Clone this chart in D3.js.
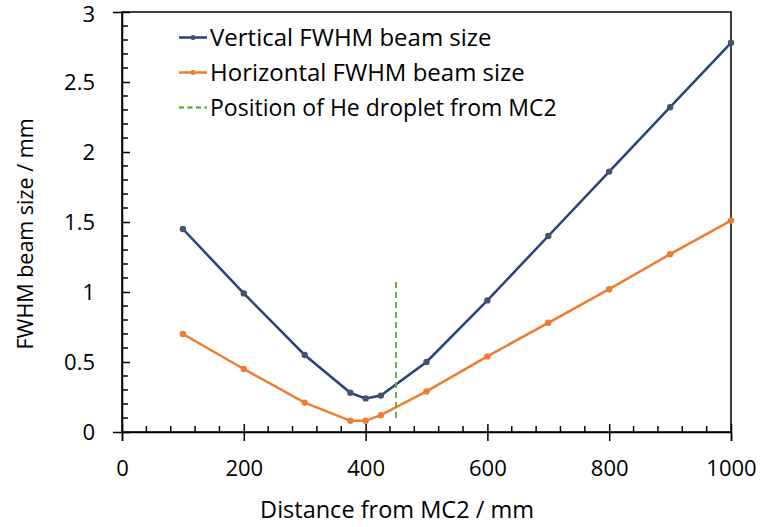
<!DOCTYPE html>
<html><head><meta charset="utf-8">
<script src="https://cdn.jsdelivr.net/npm/d3@7"></script>
<style>body{margin:0;background:#fff}svg{display:block}text{font-family:"Open Sans",Lato,sans-serif;fill:#000}</style>
</head><body><svg id="c" width="761" height="527"></svg>
<script>
const distances = [100,200,300,375,400,425,500,600,700,800,900,1000];
const vertical = [1.45,0.99,0.55,0.28,0.24,0.26,0.50,0.94,1.40,1.86,2.32,2.78];
const horizontal = [0.70,0.45,0.21,0.08,0.08,0.12,0.29,0.54,0.78,1.02,1.27,1.51];
const dropletX = [450,450];
const dropletY = [0.1,1.1];
const xTicks = [0,200,400,600,800,1000];
const yTicks = [0,0.5,1,1.5,2,2.5,3];
const legendLabels = ["Vertical FWHM beam size","Horizontal FWHM beam size","Position of He droplet from MC2"];

const svg = d3.select("#c");
const L=122,R=731,T=12,B=432;
const x = d3.scaleLinear().domain([0,1000]).range([L,R]);
const y = d3.scaleLinear().domain([0,3]).range([B,T]);

// frame
svg.append("rect").attr("x",L).attr("y",T).attr("width",R-L).attr("height",B-T)
  .attr("fill","none").attr("stroke","#000").attr("stroke-width",1.5);

// minor ticks
const xMinor = d3.range(0,1001,40).filter(v=>v%200!==0);
svg.append("g").selectAll("line").data(xMinor).join("line")
  .attr("x1",d=>x(d)).attr("x2",d=>x(d)).attr("y1",B).attr("y2",B-6).attr("stroke","#000").attr("stroke-width",1.5);
const yMinor = d3.range(0,31).map(v=>v/10).filter((v,i)=>i%5!==0);
svg.append("g").selectAll("line").data(yMinor).join("line")
  .attr("x1",L).attr("x2",L+6).attr("y1",d=>y(d)).attr("y2",d=>y(d)).attr("stroke","#000").attr("stroke-width",1.5);

// axes
const xAx = svg.append("g").attr("transform",`translate(0,${B})`)
  .call(d3.axisBottom(x).tickValues(xTicks).tickSize(9).tickPadding(10).tickFormat(d3.format("d")));
const yAx = svg.append("g").attr("transform",`translate(${L},0)`)
  .call(d3.axisLeft(y).tickValues(yTicks).tickSize(9).tickPadding(10).tickFormat(d=>String(d)));
[xAx,yAx].forEach(g=>{
  g.select(".domain").attr("stroke","#000").attr("stroke-width",1.5);
  g.selectAll(".tick line").attr("stroke","#000").attr("stroke-width",1.5);
  g.selectAll("text").style("font-size","22px").attr("fill","#000");
});
xAx.selectAll(".tick line").attr("y1",-8);
xAx.selectAll("text").attr("dy",null).attr("y",44);
yAx.selectAll(".tick line").attr("x2",8);
yAx.selectAll("text").attr("x",-27).attr("y",d=>d===3?2:0);

// axis titles
svg.append("text").attr("x",397).attr("y",518).attr("text-anchor","middle").style("font-size","23.5px").text("Distance from MC2 / mm");
svg.append("text").attr("transform",`translate(33,234) rotate(-90)`).attr("text-anchor","middle").style("font-size","21.5px").text("FWHM beam size / mm");

// series
const line = d3.line().x(d=>x(d[0])).y(d=>y(d[1]));
const series = [
  {vals:vertical,color:"#264478",marker:"#44546A"},
  {vals:horizontal,color:"#ED7D31",marker:"#ED7D31"}
];
series.forEach(s=>{
  const pts = distances.map((d,i)=>[d,s.vals[i]]);
  svg.append("path").attr("d",line(pts)).attr("fill","none").attr("stroke",s.color).attr("stroke-width",2.5);
  svg.append("g").selectAll("circle").data(pts).join("circle")
    .attr("cx",d=>x(d[0])).attr("cy",d=>y(d[1])).attr("r",3.2).attr("fill",s.marker);
});
// droplet
svg.append("path").attr("d",line(dropletX.map((d,i)=>[d,dropletY[i]])))
  .attr("stroke","#70AD47").attr("stroke-width",2).attr("stroke-dasharray","6,4").attr("fill","none");

// legend
const lg = svg.append("g");
const legendSizes = ["24px","24px","23px"];
legendLabels.forEach((t,i)=>{
  const yy = 37.5+i*35;
  const col = [series[0].color,series[1].color,"#70AD47"][i];
  lg.append("line").attr("x1",179).attr("x2",207).attr("y1",yy).attr("y2",yy).attr("stroke",col)
    .attr("stroke-width",2.5).attr("stroke-dasharray",i===2?"5,3.5":null);
  if(i<2) lg.append("circle").attr("cx",193).attr("cy",yy).attr("r",2.5).attr("fill",series[i].marker);
  lg.append("text").attr("x",210).attr("y",yy+8.5).style("font-size",legendSizes[i]).text(t);
});
</script></body></html>
